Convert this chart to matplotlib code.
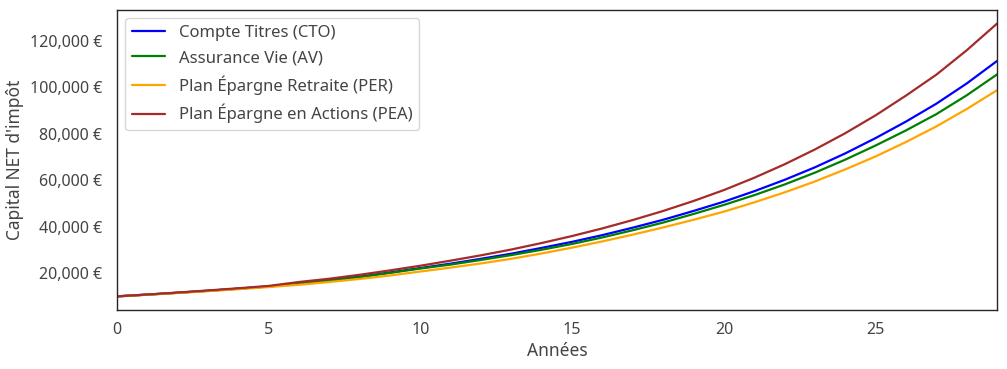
import matplotlib
matplotlib.use("Agg")
import matplotlib.pyplot as plt
import seaborn as sns
from matplotlib.ticker import FuncFormatter

years = list(range(30))
cto = [10000, 10750, 11550, 12400, 13300, 14300, 15600, 17000, 18500, 20300,
       22200, 24100, 26200, 28400, 30900, 33500, 36400, 39600, 43000, 46800,
       50800, 55300, 60200, 65600, 71600, 78200, 85300, 93000, 101700, 111400]
av = [10000, 10750, 11550, 12400, 13300, 14250, 15500, 16800, 18300, 20100,
      22000, 23700, 25700, 27800, 30100, 32600, 35400, 38500, 41800, 45500,
      49400, 53600, 58200, 63300, 68900, 75000, 81500, 88500, 96600, 105600]
per = [10000, 10700, 11450, 12250, 13100, 14000, 15000, 16200, 17500, 19000,
       20700, 22400, 24200, 26200, 28500, 31000, 33700, 36600, 39700, 43000,
       46500, 50500, 54800, 59500, 64700, 70300, 76500, 83200, 90700, 98800]
pea = [10000, 10800, 11650, 12550, 13500, 14500, 16200, 17600, 19300, 21200,
       23200, 25400, 27700, 30200, 33000, 36000, 39300, 42900, 46800, 51100,
       55800, 61100, 66900, 73300, 80300, 88000, 96500, 105500, 116000, 127500]

series = [
    ("Compte Titres (CTO)", cto, "blue"),
    ("Assurance Vie (AV)", av, "green"),
    ("Plan Épargne Retraite (PER)", per, "orange"),
    ("Plan Épargne en Actions (PEA)", pea, "brown"),
]

sns.set_style("white")
plt.rcParams['font.family'] = ['Noto Sans', 'DejaVu Sans']

fig = plt.figure(figsize=(10.07, 3.69), dpi=100)
ax = fig.add_axes([117/1007, 1-310/369, 880/1007, 300/369])

for label, vals, color in series:
    ax.plot(years, vals, color=color, lw=1.6, label=label)

ax.set_xlim(0, 29)
ax.set_xticks([0, 5, 10, 15, 20, 25])
ax.set_yticks([20000, 40000, 60000, 80000, 100000, 120000])
ax.yaxis.set_major_formatter(FuncFormatter(lambda v, p: f"{v:,.0f} €"))
ax.tick_params(labelsize=11.5, colors="#444444", pad=5)
ax.tick_params(axis="y", pad=7)
ax.set_xlabel("Années", fontsize=12.5, color="#444444", labelpad=3)
ax.set_ylabel("Capital NET d'impôt", fontsize=12.5, color="#444444", labelpad=4)
for s in ax.spines.values():
    s.set_color("#262626")
    s.set_linewidth(1.0)

leg = ax.legend(loc="upper left", fontsize=12, frameon=True, labelspacing=0.55)
for t in leg.get_texts():
    t.set_color("#444444")

fig.savefig("out.png", dpi=100)
